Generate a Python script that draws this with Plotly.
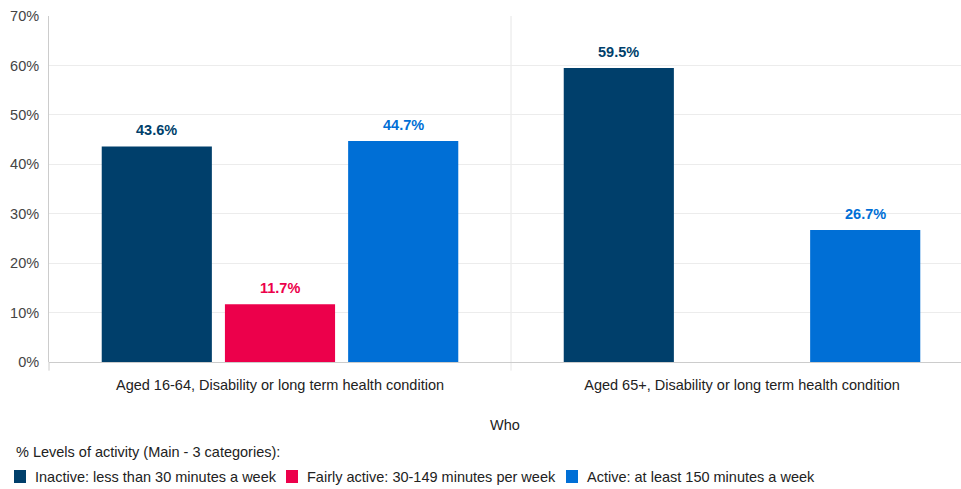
import plotly.graph_objects as go

# Groups on the x axis
groups = [
    "Aged 16-64, Disability or long term health condition",
    "Aged 65+, Disability or long term health condition",
]

# Activity level series (percent); None where no value is reported
series_names = [
    "Inactive: less than 30 minutes a week",
    "Fairly active: 30-149 minutes per week",
    "Active: at least 150 minutes a week",
]
inactive = [43.6, 59.5]
fairly_active = [11.7, None]
active = [44.7, 26.7]

y_ticks = [0, 10, 20, 30, 40, 50, 60, 70]
y_tick_labels = ["0%", "10%", "20%", "30%", "40%", "50%", "60%", "70%"]

legend_title = "% Levels of activity (Main - 3 categories):"

colors = ["#003f6b", "#ec004b", "#006fd6"]
font_family = "Liberation Sans, Arial, sans-serif"
fs = 14.5

BARGAP = 0.2
plot_left, plot_w, plot_bottom, plot_h = 49, 912, 362, 346

fig = go.Figure()
all_series = [inactive, fairly_active, active]
for name, vals, col in zip(series_names, all_series, colors):
    fig.add_trace(go.Bar(
        x=[0, 1],
        y=vals,
        name=name,
        marker=dict(color=col, line=dict(width=0)),
        showlegend=False,
    ))

# Bold value labels above each bar, placed at the bar's grouped offset
slot = (1 - BARGAP) / len(all_series)
for i, (vals, col) in enumerate(zip(all_series, colors)):
    for g, v in enumerate(vals):
        if v is None:
            continue
        fig.add_annotation(
            x=g + (i - 1) * slot, y=v, xref="x", yref="y",
            text=f"<b>{v:.1f}%</b>", showarrow=False,
            yanchor="bottom", yshift=6,
            font=dict(color=col, size=fs, family=font_family),
        )

# Separator between the two groups, and the left axis extended below zero
fig.add_shape(type="line", xref="x", yref="paper", x0=0.5, x1=0.5, y0=-0.025, y1=1,
              line=dict(color="#e6e6e6", width=1), layer="below")
fig.add_shape(type="line", xref="paper", yref="paper", x0=0, x1=0, y0=-0.025, y1=0,
              line=dict(color="#cccccc", width=1), layer="below")


def px_x(px):
    return (px - plot_left) / plot_w


def px_y(py):
    return (plot_bottom - py) / plot_h


# Legend: title line, then a row of colour swatches with labels
fig.add_annotation(
    x=px_x(14), y=px_y(452), xref="paper", yref="paper", xanchor="left", yanchor="middle",
    text=legend_title, showarrow=False,
    font=dict(size=fs, color="#222222", family=font_family),
)
swatch_x = [14, 286, 566]
for sx, name, col in zip(swatch_x, series_names, colors):
    fig.add_shape(type="rect", xref="paper", yref="paper",
                  x0=px_x(sx), x1=px_x(sx + 12), y0=px_y(483), y1=px_y(470),
                  fillcolor=col, line=dict(width=0))
    fig.add_annotation(
        x=px_x(sx + 19), y=px_y(477), xref="paper", yref="paper",
        xanchor="left", yanchor="middle", text=name, showarrow=False,
        font=dict(size=fs, color="#222222", family=font_family),
    )

fig.update_layout(
    width=961, height=489,
    margin=dict(l=plot_left, r=0, t=16, b=127),
    paper_bgcolor="white", plot_bgcolor="white",
    barmode="group", bargap=BARGAP, bargroupgap=0.106,
    font=dict(family=font_family, size=fs, color="#222222"),
    showlegend=False,
    xaxis=dict(
        tickmode="array", tickvals=[0, 1], ticktext=groups,
        range=[-0.5, 1.474],
        showgrid=False, zeroline=False, showline=False,
        ticks="", ticklabelstandoff=12,
        tickfont=dict(size=fs, color="#222222"),
        title=dict(text="Who", font=dict(size=fs, color="#222222"), standoff=28),
    ),
    yaxis=dict(
        range=[0, 70], tickmode="array", tickvals=y_ticks, ticktext=y_tick_labels,
        showgrid=True, gridcolor="#ececec", gridwidth=1,
        zeroline=True, zerolinecolor="#cccccc", zerolinewidth=1,
        showline=True, linecolor="#cccccc", linewidth=1,
        ticks="", ticklabelstandoff=6,
        tickfont=dict(size=fs, color="#444444"),
    ),
)

fig.write_html("out.html")
